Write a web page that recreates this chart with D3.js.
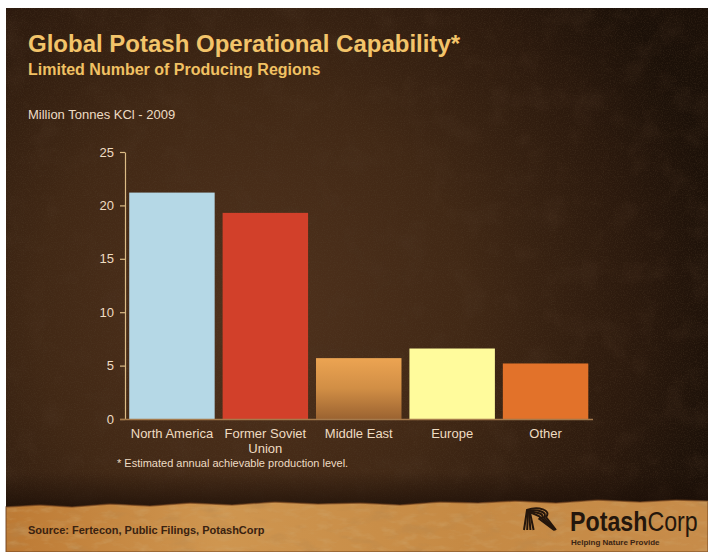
<!DOCTYPE html>
<html>
<head>
<meta charset="utf-8">
<script src="https://cdn.jsdelivr.net/npm/d3@7"></script>
<style>
  html, body { margin: 0; padding: 0; background: #ffffff; }
  svg { display: block; }
  text { font-family: "Liberation Sans", Arial, sans-serif; }
</style>
</head>
<body>
<svg id="chart" width="708" height="552"></svg>
<script>
// Regions and 2009 operational capability (million tonnes KCl)
const categories = ["North America", "Former Soviet Union", "Middle East", "Europe", "Other"];
const categoryLines = [["North America"], ["Former Soviet", "Union"], ["Middle East"], ["Europe"], ["Other"]];
const values = [21.2, 19.3, 5.7, 6.6, 5.2];
const yTicks = [0, 5, 10, 15, 20, 25];
const barColors = ["#b5d8e6", "#d2402a", "url(#meGrad)", "#fffb9c", "#e2722a"];

const svg = d3.select("#chart");
const defs = svg.append("defs");

// --- background: dark leather-brown panel with grain ---
const bgGrad = defs.append("radialGradient").attr("id", "bgGrad")
  .attr("gradientUnits", "userSpaceOnUse").attr("cx", 250).attr("cy", 310).attr("r", 480);
bgGrad.append("stop").attr("offset", 0).attr("stop-color", "#50321d");
bgGrad.append("stop").attr("offset", 0.45).attr("stop-color", "#412815");
bgGrad.append("stop").attr("offset", 0.8).attr("stop-color", "#2b190d");
bgGrad.append("stop").attr("offset", 1).attr("stop-color", "#1b1008");

const grain = defs.append("filter").attr("id", "grain")
  .attr("x", 0).attr("y", 0).attr("width", "100%").attr("height", "100%");
grain.append("feTurbulence").attr("type", "fractalNoise")
  .attr("baseFrequency", 0.85).attr("numOctaves", 2).attr("seed", 3);
grain.append("feColorMatrix").attr("type", "matrix")
  .attr("values", "0 0 0 0 0.10  0 0 0 0 0.06  0 0 0 0 0.03  0 0 0 -1.4 0.8");

const mottle = defs.append("filter").attr("id", "mottle")
  .attr("x", 0).attr("y", 0).attr("width", "100%").attr("height", "100%");
mottle.append("feTurbulence").attr("type", "fractalNoise")
  .attr("baseFrequency", 0.035).attr("numOctaves", 4).attr("seed", 11);
mottle.append("feColorMatrix").attr("type", "matrix")
  .attr("values", "0 0 0 0 0.08  0 0 0 0 0.04  0 0 0 0 0.02  0 0 0 -2.0 1.05");

svg.append("rect").attr("x", 6).attr("y", 8).attr("width", 702).attr("height", 544)
  .attr("fill", "url(#bgGrad)");
svg.append("rect").attr("x", 6).attr("y", 8).attr("width", 702).attr("height", 544)
  .attr("filter", "url(#mottle)").attr("opacity", 0.3);
svg.append("rect").attr("x", 6).attr("y", 8).attr("width", 702).attr("height", 544)
  .attr("filter", "url(#grain)").attr("opacity", 0.45);

// --- parchment strip along the bottom ---
const shadeGrad = defs.append("linearGradient").attr("id", "shadeGrad")
  .attr("x1", 0).attr("y1", 0).attr("x2", 0).attr("y2", 1);
shadeGrad.append("stop").attr("offset", 0).attr("stop-color", "#1a0d06").attr("stop-opacity", 0);
shadeGrad.append("stop").attr("offset", 1).attr("stop-color", "#1a0d06").attr("stop-opacity", 0.7);
svg.append("rect").attr("x", 6).attr("y", 472).attr("width", 702).attr("height", 36)
  .attr("fill", "url(#shadeGrad)");

const paperGrad = defs.append("linearGradient").attr("id", "paperGrad")
  .attr("x1", 0).attr("y1", 0).attr("x2", 1).attr("y2", 0);
paperGrad.append("stop").attr("offset", 0).attr("stop-color", "#bd7a34");
paperGrad.append("stop").attr("offset", 0.3).attr("stop-color", "#cf9650");
paperGrad.append("stop").attr("offset", 0.65).attr("stop-color", "#c68a44");
paperGrad.append("stop").attr("offset", 1).attr("stop-color", "#c78c4a");

const paperTex = defs.append("filter").attr("id", "paperTex")
  .attr("x", 0).attr("y", 0).attr("width", "100%").attr("height", "100%");
paperTex.append("feTurbulence").attr("type", "fractalNoise")
  .attr("baseFrequency", "0.06 0.15").attr("numOctaves", 4).attr("seed", 5);
paperTex.append("feColorMatrix").attr("type", "matrix")
  .attr("values", "0 0 0 0 0.62  0 0 0 0 0.38  0 0 0 0 0.15  0 0 0 -2.2 1.15");

const paperDark = defs.append("filter").attr("id", "paperDark")
  .attr("x", 0).attr("y", 0).attr("width", "100%").attr("height", "100%");
paperDark.append("feTurbulence").attr("type", "fractalNoise")
  .attr("baseFrequency", "0.03 0.08").attr("numOctaves", 3).attr("seed", 21);
paperDark.append("feColorMatrix").attr("type", "matrix")
  .attr("values", "0 0 0 0 0.45  0 0 0 0 0.24  0 0 0 0 0.08  0 0 0 -2.4 1.1");

const edge = "M6,507 L40,505 L72,507 L110,504 L150,506 L190,503 L232,505 L275,502 L318,504 " +
  "L360,503 L400,505 L440,502 L478,503 L515,501 L556,503 L598,500 L640,502 L676,500 L708,501 " +
  "L708,552 L6,552 Z";
defs.append("clipPath").attr("id", "paperClip").append("path").attr("d", edge);
svg.append("path").attr("d", edge).attr("fill", "url(#paperGrad)");
svg.append("rect").attr("x", 6).attr("y", 498).attr("width", 702).attr("height", 54)
  .attr("clip-path", "url(#paperClip)").attr("filter", "url(#paperDark)").attr("opacity", 0.5);
svg.append("rect").attr("x", 6).attr("y", 498).attr("width", 702).attr("height", 54)
  .attr("clip-path", "url(#paperClip)").attr("filter", "url(#paperTex)").attr("opacity", 0.45);
svg.append("path").attr("d", edge).attr("fill", "none").attr("stroke", "#6e3f1c")
  .attr("stroke-width", 1.5).attr("opacity", 0.6);

// --- titles ---
svg.append("text").attr("x", 28).attr("y", 52)
  .attr("font-size", 24).attr("font-weight", "bold").attr("fill", "#f3c46a")
  .text("Global Potash Operational Capability*");
svg.append("text").attr("x", 28).attr("y", 75)
  .attr("font-size", 16).attr("font-weight", "bold").attr("fill", "#f1c163")
  .text("Limited Number of Producing Regions");
svg.append("text").attr("x", 28).attr("y", 119)
  .attr("font-size", 13).attr("fill", "#eedcc4")
  .text("Million Tonnes KCl - 2009");

// --- scales ---
const x = d3.scaleBand().domain(categories).range([125, 592.5])
  .paddingInner(0.085).paddingOuter(0.045);
const y = d3.scaleLinear().domain([0, 25]).range([419, 152]);

// Middle East bar shades from amber at the top to brown at the base
const meGrad = defs.append("linearGradient").attr("id", "meGrad")
  .attr("x1", 0).attr("y1", 0).attr("x2", 0).attr("y2", 1);
meGrad.append("stop").attr("offset", 0).attr("stop-color", "#eca452");
meGrad.append("stop").attr("offset", 0.5).attr("stop-color", "#d18e45");
meGrad.append("stop").attr("offset", 1).attr("stop-color", "#9b6331");

// --- bars ---
svg.append("g").selectAll("rect").data(categories).join("rect")
  .attr("x", d => x(d))
  .attr("y", (d, i) => y(values[i]))
  .attr("width", x.bandwidth())
  .attr("height", (d, i) => y(0) - y(values[i]))
  .attr("fill", (d, i) => barColors[i]);

// --- y axis ---
const yAxis = svg.append("g").attr("transform", "translate(125,0)")
  .call(d3.axisLeft(y).tickValues(yTicks).tickSize(5).tickSizeOuter(0).tickPadding(6));
yAxis.select(".domain").attr("stroke", "#dcbc86").attr("stroke-width", 1.2);
yAxis.selectAll(".tick line").attr("stroke", "#dcbc86").attr("stroke-width", 1.2);
yAxis.selectAll(".tick text").attr("fill", "#efdcc2").attr("font-size", 13)
  .attr("font-family", "'Liberation Sans', Arial, sans-serif");

// --- x axis with wrapped category labels ---
const xAxis = svg.append("g").attr("transform", "translate(0,419)")
  .call(d3.axisBottom(x).tickSize(0).tickSizeOuter(0).tickPadding(0));
xAxis.select(".domain").attr("d", "M120,0.5H593").attr("stroke", "#a57a4c").attr("stroke-width", 1.5);
xAxis.selectAll(".tick text").each(function (d) {
  const t = d3.select(this).text(null)
    .attr("fill", "#efdcc2").attr("font-size", 13)
    .attr("font-family", "'Liberation Sans', Arial, sans-serif")
    .attr("y", 0).attr("dy", null);
  categoryLines[categories.indexOf(d)].forEach((line, k) => {
    t.append("tspan").attr("x", 0).attr("y", 19 + k * 15).text(line);
  });
});

// footnote
svg.append("text").attr("x", 117).attr("y", 467)
  .attr("font-size", 11).attr("fill", "#eedcc4")
  .text("* Estimated annual achievable production level.");

// --- footer: source and company mark ---
svg.append("text").attr("x", 28).attr("y", 534)
  .attr("font-size", 11).attr("font-weight", "bold").attr("fill", "#3a2210")
  .text("Source: Fertecon, Public Filings, PotashCorp");

const logo = svg.append("g").attr("fill", "none").attr("stroke", "#24160c")
  .attr("stroke-width", 2).attr("stroke-linecap", "butt");
[0, 1, 2, 3].forEach(i => {
  const o = i * 3.2;
  logo.append("path").attr("d",
    `M${524 + o},${530} L${527 + o * 0.3},${510 + o * 0.2} ` +
    `C${538 - o * 0.2},${506 + o} ${552 - o},${510 + o * 0.6} ${546 - o * 0.7},${517 + o * 0.2} ` +
    `L${556 - o * 0.2},${530}`);
});

const word = svg.append("text").attr("x", 570).attr("y", 531)
  .attr("font-size", 27).attr("fill", "#24160c")
  .attr("font-family", "'Open Sans', 'Liberation Sans', sans-serif")
  .attr("transform", "translate(570,0) scale(0.86,1) translate(-570,0)");
word.append("tspan").attr("font-weight", "bold").text("Potash");
word.append("tspan").text("Corp");
svg.append("text").attr("x", 571).attr("y", 545)
  .attr("font-size", 8).attr("font-weight", "bold").attr("fill", "#3a2414")
  .text("Helping Nature Provide");
</script>
</body>
</html>
